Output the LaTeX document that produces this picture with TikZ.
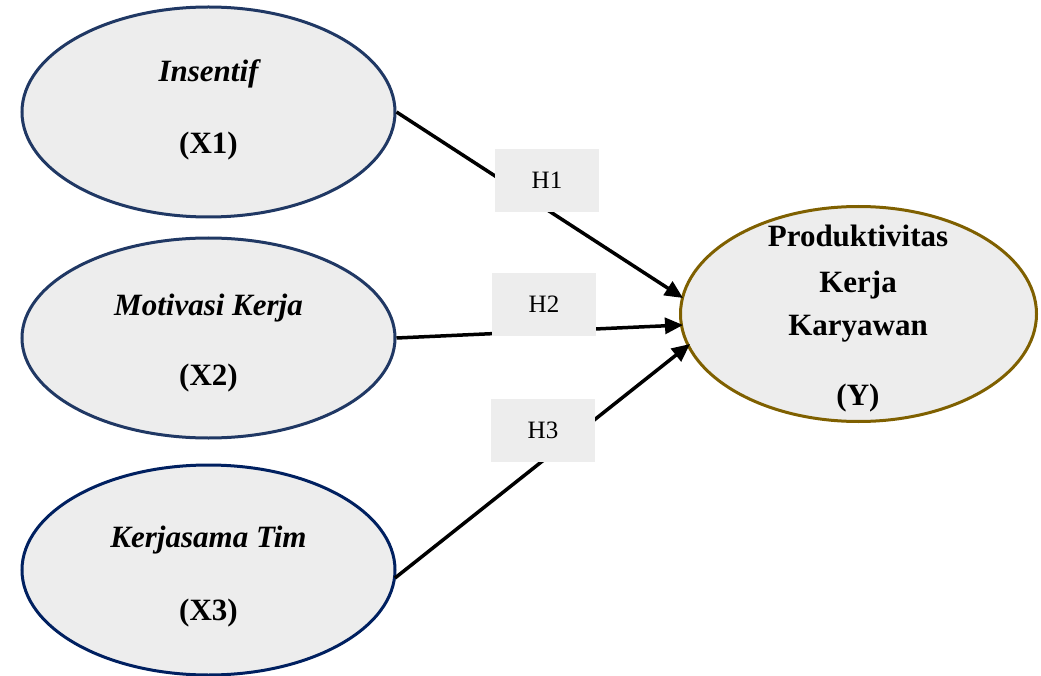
\documentclass[tikz,border=0pt]{standalone}
\usepackage{fontspec}
\setmainfont{Liberation Serif}
\usetikzlibrary{shapes.geometric,arrows.meta}
\definecolor{fillgray}{HTML}{EDEDED}
\definecolor{bluea}{HTML}{203864}
\definecolor{blueb}{HTML}{002060}
\definecolor{gold}{HTML}{7F6000}
\tikzset{
  var/.style={ellipse, draw=bluea, fill=fillgray, line width=3pt, inner sep=0pt},
  vartext/.style={anchor=base, font=\fontsize{31}{31}\selectfont\bfseries\itshape, inner sep=0pt},
  idtext/.style={anchor=base, font=\fontsize{31}{31}\selectfont\bfseries, inner sep=0pt},
  hbox/.style={fill=fillgray, minimum width=104pt, minimum height=63pt, inner sep=0pt, font=\fontsize{25}{25}\selectfont},
  arr/.style={line width=3.5pt, -{Triangle[length=18pt,width=16pt]}}
}
\begin{document}
\begin{tikzpicture}[x=1pt,y=-1pt]
\useasboundingbox (0,0) rectangle (1041,676);
% ellipses
\node[var, minimum width=373pt, minimum height=210pt] (X1) at (208.5,112) {};
\node[var, minimum width=373pt, minimum height=200pt] (X2) at (208.5,338) {};
\node[var, draw=blueb, minimum width=373pt, minimum height=210pt] (X3) at (208.5,570) {};
\node[var, draw=gold, minimum width=356pt, minimum height=215pt] (Y) at (858.5,314) {};
% targets on Y
\coordinate (t1) at (683,298);
\coordinate (t2) at (683,325);
\coordinate (t3) at (690,344);
\coordinate (s3) at (395,578);
% arrows
\draw[arr] (X1.east) -- (t1);
\draw[arr] (X2.east) -- (t2);
\draw[arr] (s3) -- (t3);
% hypothesis boxes
\node[hbox] (H1) at (547,180.5) {H1};
\node[hbox] (H2) at (544,304.5) {H2};
\node[hbox] (H3) at (543,430.5) {H3};
% texts
\node[vartext] (x1a) at (208.5,82) {Insentif};
\node[idtext] (x1b) at (208.5,154) {(X1)};
\node[vartext] (x2a) at (208.5,315) {Motivasi Kerja};
\node[idtext] (x2b) at (208.5,385) {(X2)};
\node[vartext] (x3a) at (208.5,547) {Kerjasama Tim};
\node[idtext] (x3b) at (208.5,620) {(X3)};
\node[idtext] (ya) at (858,247) {Produktivitas};
\node[idtext] (yb) at (858,292) {Kerja};
\node[idtext] (yc) at (858,335) {Karyawan};
\node[idtext] (yd) at (858,405) {(Y)};
\end{tikzpicture}
\end{document}
